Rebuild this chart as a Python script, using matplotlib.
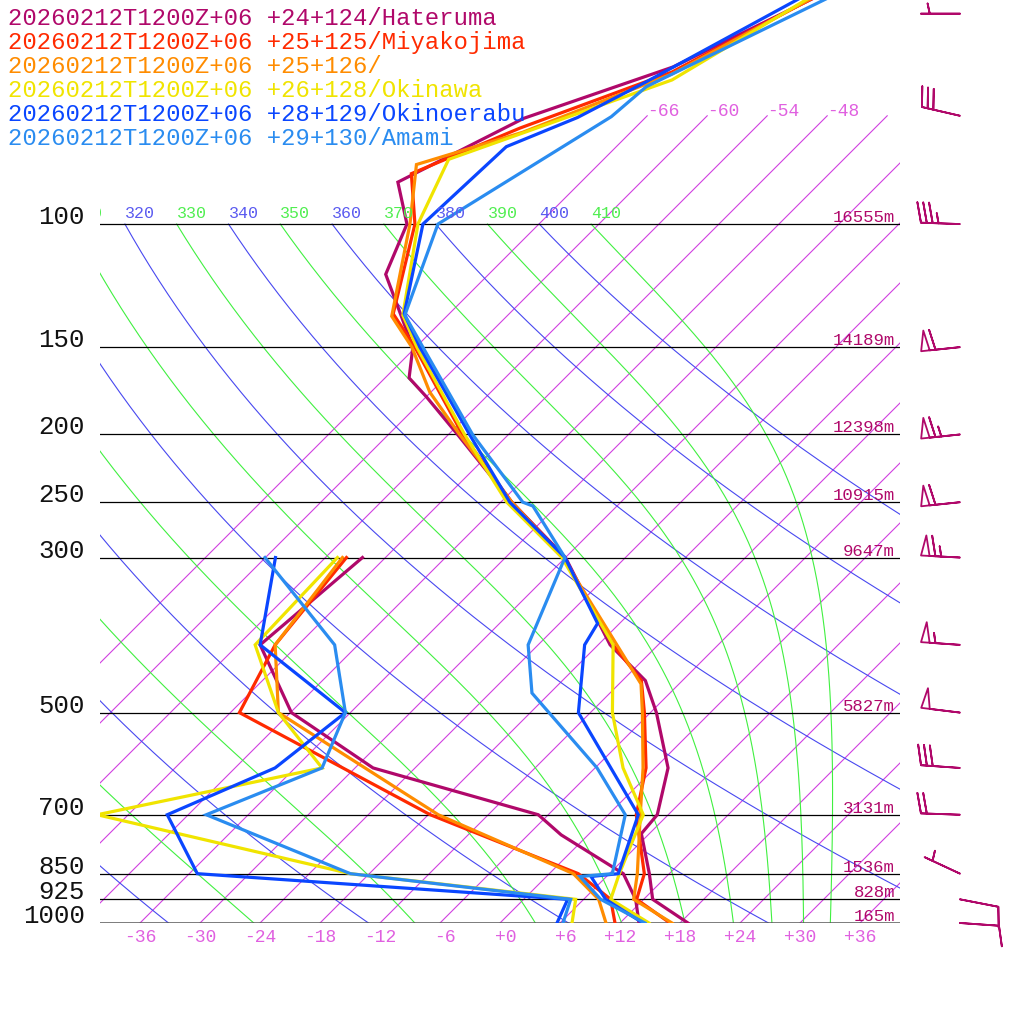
import numpy as np
import matplotlib
matplotlib.use("Agg")
import matplotlib.pyplot as plt
import matplotlib.transforms as mtransforms

plt.rcParams['font.family'] = ['Liberation Mono', 'DejaVu Sans Mono']

# ---- station soundings (pressure hPa, temperature C) ----
LABELS = ["20260212T1200Z+06 +24+124/Hateruma",
          "20260212T1200Z+06 +25+125/Miyakojima",
          "20260212T1200Z+06 +25+126/",
          "20260212T1200Z+06 +26+128/Okinawa",
          "20260212T1200Z+06 +28+129/Okinoerabu",
          "20260212T1200Z+06 +29+130/Amami"]
COLORS = ['#b0086a', '#ff2a00', '#ff8c00', '#f0e400', '#0a46ff', '#2a8cf0']

hat_t_p = [45, 59.6, 70.6, 87.1, 100, 118, 150, 166, 176.6, 200, 250, 300, 400, 450, 500, 600, 700, 745, 850, 925, 1000]
hat_t = [-59.4, -68.3, -78.1, -84.3, -79.2, -76.3, -66.3, -63.6, -60.0, -53.1, -40.9, -30.0, -16.8, -9.7, -5.4, 1.3, 4.9, 5.2, 10.0, 12.9, 18.8]
hat_td_p = [300, 400, 500, 600, 700, 748, 850, 925, 1000]
hat_td = [-50.3, -51.8, -41.9, -28.2, -7.0, -2.7, 7.4, 11.2, 13.9]

miy_t_p = [45, 60.6, 72.9, 84.7, 100, 134.4, 150, 200, 250, 300, 400, 450, 500, 600, 700, 850, 925, 1000]
miy_t = [-59.7, -67.9, -77.5, -83.8, -78.4, -71.6, -66.1, -52.6, -40.9, -30.15, -16.5, -10.1, -6.6, -0.9, 2.8, 9.5, 11.3, 17.0]
miy_td_p = [300, 400, 500, 700, 850, 925, 1000]
miy_td = [-51.9, -50.3, -47.1, -17.8, 2.9, 8.7, 11.5]

ora_t_p = [45, 61.0, 73.9, 82.2, 100, 135.5, 150, 174, 200, 250, 300, 455, 500, 600, 700, 850, 925, 1000]
ora_t = [-59.9, -67.7, -76.8, -84.2, -78.9, -71.5, -66.4, -60.1, -52.9, -40.9, -30.25, -9.8, -6.8, -1.2, 3.2, 8.8, 11.0, 17.2]
ora_td_p = [300, 400, 500, 700, 850, 925, 1000]
ora_td = [-52.3, -50.3, -43.2, -17.0, 2.4, 7.5, 10.6]

oki_t_p = [45, 62.2, 80.8, 100, 135, 150, 200, 250, 300, 400, 500, 600, 700, 850, 925, 1000]
oki_t = [-60.5, -67.1, -81.5, -78.1, -70.5, -65.9, -52.4, -41.4, -30.35, -16.5, -9.8, -3.2, 3.5, 7.0, 8.7, 14.9]
oki_td_p = [300, 400, 500, 600, 700, 850, 925, 1000]
oki_td = [-52.8, -52.3, -43.2, -33.3, -51.1, -19.9, 5.2, 7.2]

oke_t_p = [45, 62.6, 70.4, 77.5, 100, 134.4, 150, 200, 250, 300, 372.7, 400, 500, 700, 850, 858, 925, 1000]
oke_t = [-61.1, -69.5, -72.8, -77.0, -77.6, -70.5, -65.6, -51.9, -41.1, -30.05, -20.2, -19.35, -13.2, 3.0, 6.9, 4.45, 8.2, 14.3]
oke_td_p = [300, 400, 500, 600, 700, 850, 925, 1000]
oke_td = [-59.0, -51.8, -36.5, -38.0, -44.1, -35.2, 4.4, 5.7]

ama_t_p = [45, 63.6, 70.2, 100, 135, 150, 200, 250, 253.2, 300, 400, 468.8, 600, 700, 850, 858, 925, 1000]
ama_t = [-58.0, -69.0, -69.5, -76.1, -70.3, -65.3, -51.6, -39.8, -38.4, -30.05, -25.0, -19.8, -5.8, 1.7, 6.3, 3.35, 7.7, 14.5]
ama_td_p = [300, 400, 500, 600, 700, 850, 925, 1000]
ama_td = [-60.05, -44.35, -36.5, -33.3, -40.2, -19.9, 4.7, 6.3]

SOUNDINGS = [(hat_t_p, hat_t, hat_td_p, hat_td),
             (miy_t_p, miy_t, miy_td_p, miy_td),
             (ora_t_p, ora_t, ora_td_p, ora_td),
             (oki_t_p, oki_t, oki_td_p, oki_td),
             (oke_t_p, oke_t, oke_td_p, oke_td),
             (ama_t_p, ama_t, ama_td_p, ama_td)]

# standard levels with geopotential heights (Hateruma)
LEVELS = [1000, 925, 850, 700, 500, 300, 250, 200, 150, 100]
HEIGHTS = ['165m', '828m', '1536m', '3131m', '5827m', '9647m', '10915m', '12398m', '14189m', '16555m']

# winds (Hateruma): pressure, speed kt, direction deg
barb_p = [50, 70, 100, 150, 200, 250, 300, 400, 500, 600, 700, 850, 925, 1000]
barb_spd = [5, 30, 35, 60, 65, 60, 65, 55, 50, 30, 20, 5, 10, 10]
barb_dir = [270, 283, 272, 264, 264, 264, 273, 274, 277, 274, 272, 295, 101, 94]

XTICKS = [-36, -30, -24, -18, -12, -6, 0, 6, 12, 18, 24, 30, 36]
ISOTHERMS = np.arange(-66, 61, 6)
ISO_LABELS = [-66, -60, -54, -48]
DRY_THETA = np.arange(200, 401, 20)
MOIST_THETA = np.arange(210, 411, 20)

KAPPA, RD, CP, LV, EPS = 0.2857, 287.04, 1005.7, 2.501e6, 0.622


def lapse(T, p):
    es = 6.112 * np.exp(17.67 * (T - 273.15) / (T - 29.65))
    rs = EPS * es / (p - es)
    return (RD * T + LV * rs) / (p * (CP + LV ** 2 * rs * EPS / (RD * T ** 2)))


def moist_adiabat(theta100, p):
    # pseudo-adiabat that has potential temperature theta100 at 100 hPa
    T = theta100 * 0.1 ** KAPPA
    out = [T]
    for p0, p1 in zip(p[:-1], p[1:]):
        h = p1 - p0
        k1 = lapse(T, p0)
        k2 = lapse(T + h * k1 / 2, p0 + h / 2)
        k3 = lapse(T + h * k2 / 2, p0 + h / 2)
        k4 = lapse(T + h * k3, p1)
        T = T + h * (k1 + 2 * k2 + 2 * k3 + k4) / 6
        out.append(T)
    return np.array(out) - 273.15


fig = plt.figure(figsize=(10.24, 10.24), dpi=100)
ax = fig.add_axes([100 / 1024, 101 / 1024, 800 / 1024, 923 / 1024])
ax.set_yscale('log')
ax.set_axis_off()
ax.set_xlim(-40, 40)
ax.set_ylim(1000, 47.8)

# 45 degree skew in pixels
k = (923 / 1024) / (800 / 1024)
skew = ax.transScale + ax.transLimits + mtransforms.Affine2D.from_values(1, 0, k, 1, 0, 0) + ax.transAxes
bt = mtransforms.blended_transform_factory(ax.transAxes, ax.transData)

iso_c, dry_c, moist_c, lab_c = '#d040e0', '#4848f0', '#40f040', '#e060e0'

for t in ISOTHERMS:
    ax.plot([t, t], [1000, 70], color=iso_c, lw=0.8, transform=skew)
for t in ISO_LABELS:
    ax.text(t, 70, str(t), transform=skew, color=lab_c, fontsize=13, ha='left', va='baseline')

plev = np.geomspace(100, 1000, 300)
lab_tr = mtransforms.offset_copy(skew, fig=fig, y=6, units='dots')


def adiabat_label(th, color):
    t100 = th * 0.1 ** KAPPA - 273.15
    # only labels that reach into the plot (the leftmost one is cut at the edge)
    if ax.transAxes.inverted().transform(skew.transform((t100, 100)))[0] > -0.05:
        ax.text(t100, 100, str(th), transform=lab_tr, color=color,
                fontsize=12, ha='left', va='baseline', clip_on=True)


for th in DRY_THETA:
    ax.plot(th * (plev / 1000) ** KAPPA - 273.15, plev, color=dry_c, lw=0.8, transform=skew)
    adiabat_label(th, '#5a5af0')
for th in MOIST_THETA:
    ax.plot(moist_adiabat(th, plev), plev, color=moist_c, lw=0.8, transform=skew)
    adiabat_label(th, '#50ee50')

for p in LEVELS:
    if p == 1000:
        ax.axhline(p, color='#555555', lw=1.8)
    else:
        ax.axhline(p, color='black', lw=0.9)

for (tp, t, dp, td), c in zip(SOUNDINGS, COLORS):
    ax.plot(t, tp, color=c, lw=2.3, transform=skew, solid_joinstyle='miter')
    ax.plot(td, dp, color=c, lw=2.3, transform=skew, solid_joinstyle='miter')

# pressure labels and heights
for p, h in zip(LEVELS, HEIGHTS):
    ax.text(-15 / 800, p, str(p), transform=bt, fontsize=18.5, color='#111111',
            ha='right', va='baseline')
    ax.text(795 / 800, p, h, transform=mtransforms.offset_copy(bt, fig=fig, y=2, units='dots'),
            fontsize=12.5, color=COLORS[0], ha='right', va='baseline')

xt = mtransforms.blended_transform_factory(ax.transData, ax.transAxes)
for t in XTICKS:
    ax.text(t + 1.6, -19 / 923, f"{t:+d}", transform=xt,
            fontsize=13, color=lab_c, ha='right', va='baseline')

# wind barbs
rad = np.deg2rad(barb_dir)
u = -np.array(barb_spd) * np.sin(rad)
v = -np.array(barb_spd) * np.cos(rad)
ax.barbs(np.full(len(barb_p), 860 / 800), barb_p, u, v, transform=bt, length=7.5,
         barbcolor=COLORS[0], flagcolor='none', linewidth=1.3, clip_on=False,
         sizes=dict(spacing=0.15, height=0.52, width=0.22))

ax.set_xlim(-40, 40)
ax.set_ylim(1000, 47.8)

for i, (lab, c) in enumerate(zip(LABELS, COLORS)):
    fig.text(8 / 1024, 1 - (25 + 24 * i) / 1024, lab, color=c, fontsize=17.2,
             ha='left', va='baseline')

fig.savefig('out.png', dpi=100)
